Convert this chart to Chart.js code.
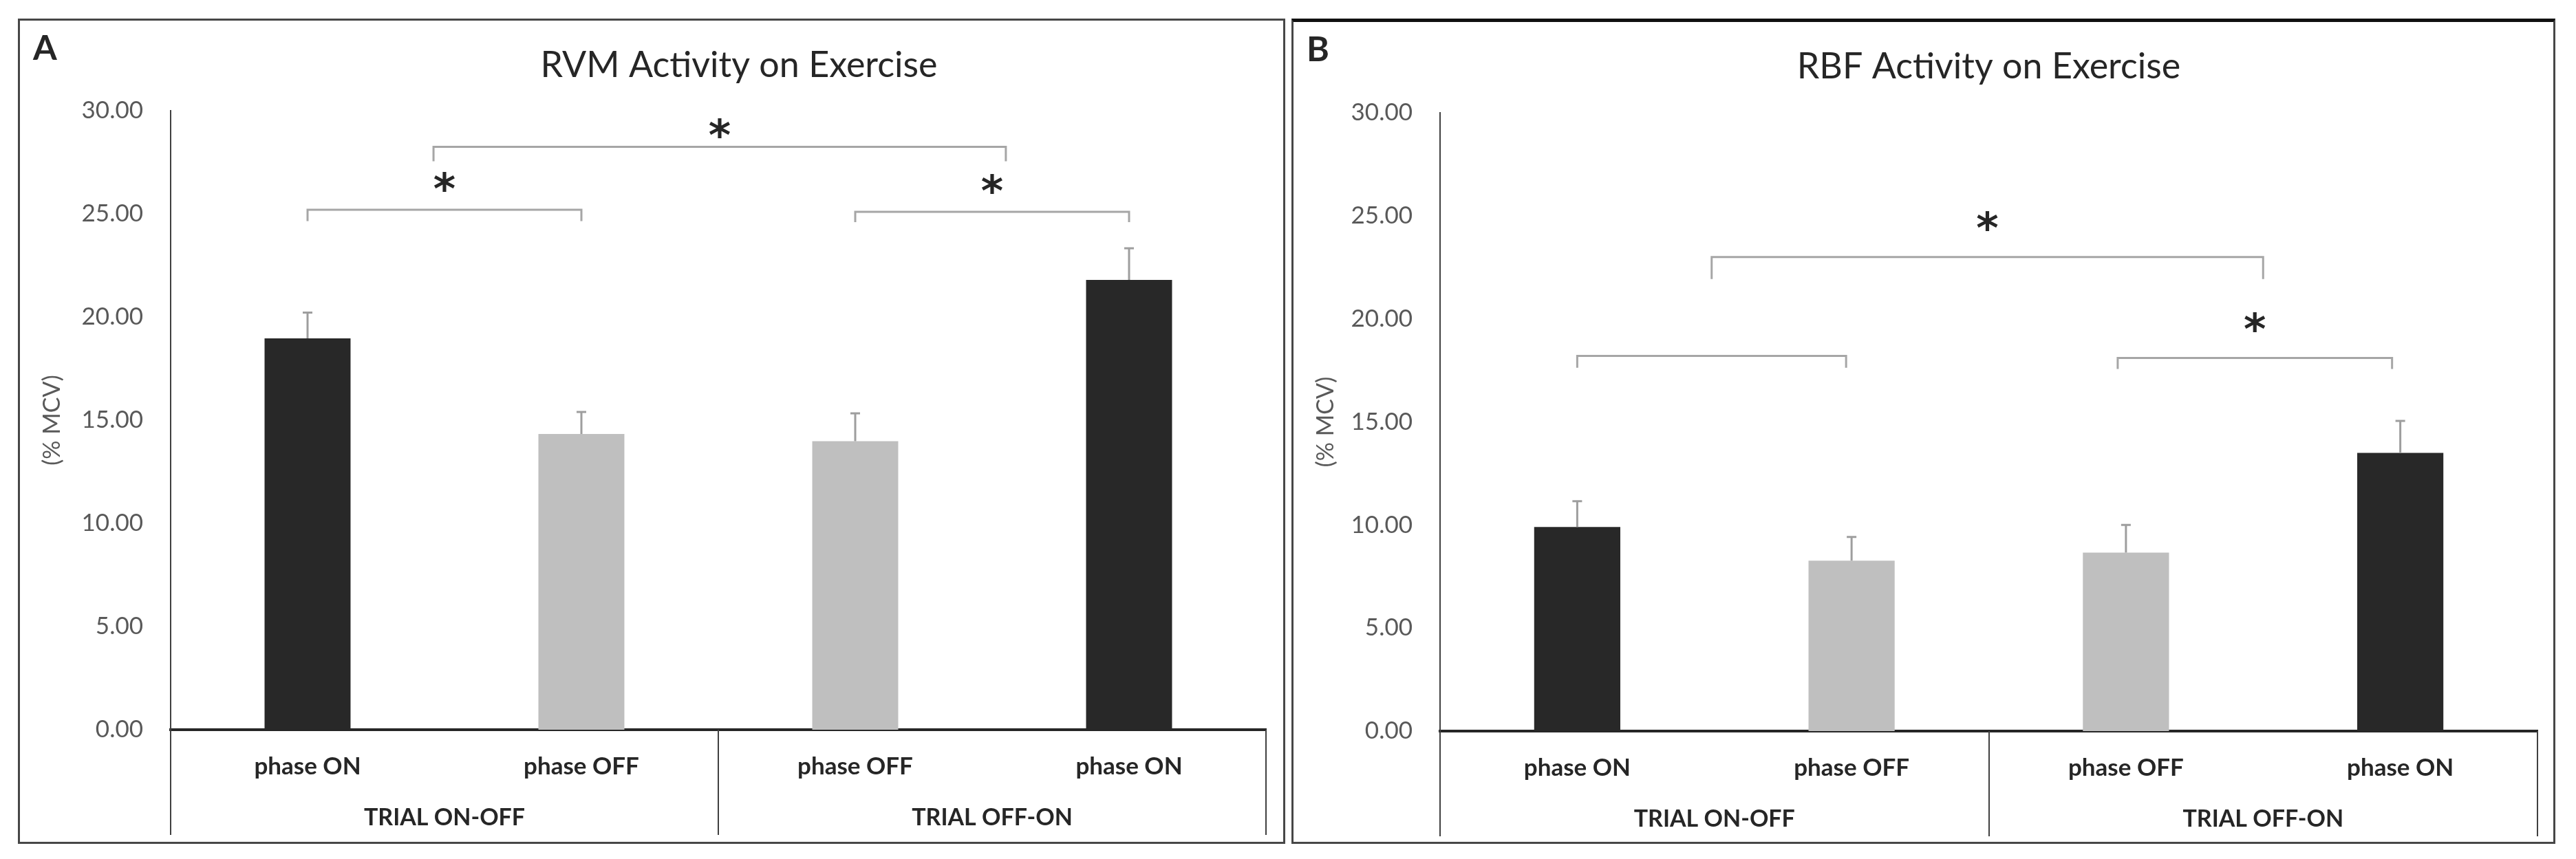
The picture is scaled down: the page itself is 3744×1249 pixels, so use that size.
<!DOCTYPE html>
<html>
<head>
<meta charset="utf-8">
<script src="https://cdn.jsdelivr.net/npm/chart.js@4.4.1/dist/chart.umd.min.js"></script>
<style>
  html, body { margin: 0; padding: 0; background: #fff; }
  body { width: 3744px; height: 1249px; position: relative; overflow: hidden; }
  .panel { position: absolute; top: 27px; border: 3px solid #474747; background: #fff; }
  #panelA { left: 26px; width: 1836px; height: 1194px; }
  #panelB { left: 1877px; width: 1831px; height: 1192px; border-top: 5px solid #111; }
  canvas { display: block; }
</style>
</head>
<body>
<div class="panel" id="panelA"><canvas id="chartA" width="1836" height="1194"></canvas></div>
<div class="panel" id="panelB"><canvas id="chartB" width="1831" height="1192"></canvas></div>
<script>
const categories = ['phase ON', 'phase OFF', 'phase OFF', 'phase ON'];
const groups = ['TRIAL ON-OFF', 'TRIAL OFF-ON'];
const yTicks = [0, 5, 10, 15, 20, 25, 30];

const rvmMeans = [18.97, 14.33, 13.98, 21.80];
const rvmErrors = [1.25, 1.07, 1.35, 1.53];
const rbfMeans = [9.90, 8.27, 8.66, 13.50];
const rbfErrors = [1.25, 1.15, 1.34, 1.55];

// brackets: from index, to index, bar level, leg end level, star level (null = no star)
const rvmBrackets = [
  [0, 1, 25.2, 24.65, 26.4],
  [0.46, 2.55, 28.25, 27.55, 29.0],
  [2, 3, 25.1, 24.6, 26.3]
];
const rbfBrackets = [
  [0, 0.98, 18.2, 17.63, null],
  [0.49, 2.5, 23.0, 21.93, 24.6],
  [1.97, 2.97, 18.1, 17.57, 19.7]
];

const barColors = ['#282828', '#bfbfbf', '#bfbfbf', '#282828'];

const decor = {
  id: 'decor',
  afterDraw(chart, args, o) {
    const { ctx, chartArea, scales: { x, y } } = chart;
    const meta = chart.getDatasetMeta(0);
    ctx.save();

    // error bars (plus side only)
    ctx.strokeStyle = '#9e9e9e';
    ctx.lineWidth = 3;
    o.errors.forEach((e, i) => {
      const bar = meta.data[i];
      const top = y.getPixelForValue(o.means[i] + e);
      ctx.beginPath();
      ctx.moveTo(bar.x, bar.y);
      ctx.lineTo(bar.x, top);
      ctx.moveTo(bar.x - 7, top);
      ctx.lineTo(bar.x + 7, top);
      ctx.stroke();
    });

    // significance brackets
    ctx.strokeStyle = '#a6a6a6';
    ctx.lineWidth = 3;
    o.brackets.forEach(b => {
      const x1 = x.getPixelForValue(b[0]);
      const x2 = x.getPixelForValue(b[1]);
      const yb = y.getPixelForValue(b[2]);
      const yl = y.getPixelForValue(b[3]);
      ctx.beginPath();
      ctx.moveTo(x1, yl);
      ctx.lineTo(x1, yb);
      ctx.lineTo(x2, yb);
      ctx.lineTo(x2, yl);
      ctx.stroke();
      if (b[4] !== null) {
        ctx.fillStyle = '#262626';
        ctx.font = 'bold 62px "DejaVu Sans"';
        ctx.textAlign = 'center';
        ctx.textBaseline = 'middle';
        ctx.fillText('*', (x1 + x2) / 2, y.getPixelForValue(b[4]) + 11);
      }
    });

    // group separators and group labels
    ctx.strokeStyle = '#404040';
    ctx.lineWidth = 2;
    [-0.5, 1.5, 3.5].forEach(v => {
      const px = Math.round(x.getPixelForValue(v));
      ctx.beginPath();
      ctx.moveTo(px, chartArea.bottom);
      ctx.lineTo(px, chartArea.bottom + 153);
      ctx.stroke();
    });
    ctx.fillStyle = '#262626';
    ctx.font = 'bold 34px Lato';
    ctx.textAlign = 'center';
    ctx.textBaseline = 'middle';
    groups.forEach((g, i) => {
      ctx.fillText(g, x.getPixelForValue(i * 2 + 0.5), chartArea.bottom + 128);
    });

    // title and panel letter
    ctx.font = '52px Lato';
    ctx.textBaseline = 'alphabetic';
    ctx.fillText(o.title, (chartArea.left + chartArea.right) / 2 + o.titleShift, 82);
    ctx.font = 'bold 50px Lato';
    ctx.textAlign = 'left';
    ctx.fillText(o.letter, 19, 57);
    ctx.restore();
  }
};

function makeChart(id, means, errors, brackets, title, letter, titleShift, yWidth, padTop, padRight, xHeight) {
  return new Chart(document.getElementById(id), {
    type: 'bar',
    data: {
      labels: categories,
      datasets: [{
        data: means,
        backgroundColor: barColors,
        borderWidth: 0,
        barPercentage: 0.314,
        categoryPercentage: 1.0
      }]
    },
    options: {
      responsive: false,
      animation: false,
      devicePixelRatio: 1,
      layout: { padding: { top: padTop, right: padRight, left: 0, bottom: 0 } },
      plugins: {
        legend: { display: false },
        tooltip: { enabled: false },
        decor: { means, errors, brackets, title, letter, titleShift }
      },
      scales: {
        x: {
          grid: { display: false, drawTicks: false },
          border: { display: true, color: '#262626', width: 4 },
          ticks: {
            color: '#262626',
            font: { family: 'Lato', size: 35, weight: 'bold' },
            padding: 33,
            autoSkip: false,
            maxRotation: 0
          },
          afterFit: s => { s.height = xHeight; }
        },
        y: {
          min: yTicks[0],
          max: yTicks[yTicks.length - 1],
          grid: { display: false, drawTicks: false },
          border: { display: true, color: '#404040', width: 2 },
          ticks: {
            stepSize: yTicks[1] - yTicks[0],
            color: '#595959',
            font: { family: 'Lato', size: 35 },
            padding: 40,
            callback: v => v.toFixed(2)
          },
          title: {
            display: true,
            text: '(% MCV)',
            color: '#595959',
            font: { family: 'Lato', size: 34 },
            padding: { top: 27, bottom: 0 }
          },
          afterFit: s => { s.width = yWidth; }
        }
      }
    },
    plugins: [decor]
  });
}

makeChart('chartA', rvmMeans, rvmErrors, rvmBrackets, 'RVM Activity on Exercise', 'A', 30, 219, 131, 25, 163);
makeChart('chartB', rbfMeans, rbfErrors, rbfBrackets, 'RBF Activity on Exercise', 'B', 0, 213, 132, 23, 161);
</script>
</body>
</html>
